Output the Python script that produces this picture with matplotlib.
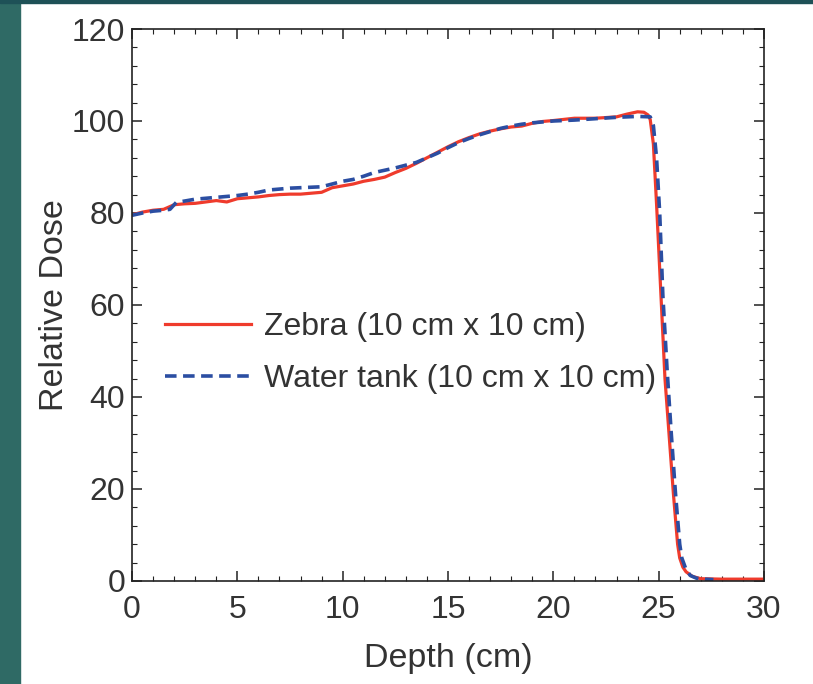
import matplotlib
matplotlib.use('Agg')
import matplotlib.pyplot as plt
from matplotlib.patches import Rectangle

plt.rcParams['font.family'] = ['Liberation Sans', 'DejaVu Sans']

# Depth-dose data (depth in cm, relative dose)
zebra_depth = [0, 0.5, 1.0, 1.5, 2.0, 2.5, 3.0, 3.5, 4.0, 4.5, 5.0, 5.5, 6.0, 6.5, 7.0,
               7.5, 8.0, 8.5, 9.0, 9.5, 10.0, 10.5, 11.0, 11.5, 12.0, 12.5, 13.0, 13.5,
               14.0, 14.5, 15.0, 15.5, 16.0, 16.5, 17.0, 17.5, 18.0, 18.5, 19.0, 19.5,
               20.0, 21.0, 22.0, 23.0, 23.5, 24.0, 24.3, 24.5, 24.6, 24.75, 24.9, 25.1,
               25.3, 25.5, 25.7, 25.9, 26.0, 26.15, 26.3, 26.6, 27.0, 28.0, 30.0]
zebra_dose = [79.6, 80.2, 80.6, 80.8, 81.8, 82.0, 82.1, 82.4, 82.7, 82.4, 83.1, 83.3, 83.5,
              83.8, 84.0, 84.1, 84.1, 84.3, 84.5, 85.5, 85.9, 86.3, 86.9, 87.3, 87.8, 88.8,
              89.7, 90.8, 92.0, 93.2, 94.4, 95.5, 96.4, 97.2, 97.8, 98.3, 98.7, 98.9, 99.5,
              99.9, 100.1, 100.6, 100.6, 100.9, 101.5, 102.0, 101.9, 101.3, 100.3, 95.0,
              82.0, 63.0, 44.0, 31.5, 19.0, 8.0, 5.0, 3.0, 2.0, 1.0, 0.5, 0.4, 0.4]

tank_depth = [0, 0.5, 1.0, 1.5, 1.8, 2.1, 2.5, 3.0, 3.5, 4.0, 4.5, 5.0, 5.5, 6.0, 6.5,
              7.0, 7.5, 8.0, 8.5, 9.0, 9.5, 10.0, 10.5, 11.0, 11.5, 12.0, 12.5, 13.0,
              13.5, 14.0, 14.5, 15.0, 15.5, 16.0, 16.5, 17.0, 17.5, 18.0, 18.5, 19.0,
              19.5, 20.0, 21.0, 22.0, 23.0, 24.0, 24.6, 24.75, 24.9, 25.05, 25.2, 25.4,
              25.6, 25.8, 26.0, 26.1, 26.3, 26.5, 26.8, 27.2, 27.6]
tank_dose = [79.5, 80.0, 80.4, 80.6, 80.8, 82.3, 82.6, 83.0, 83.2, 83.4, 83.6, 83.8, 84.1,
             84.5, 85.0, 85.2, 85.4, 85.5, 85.6, 85.7, 86.3, 86.9, 87.3, 88.0, 88.8, 89.3,
             89.8, 90.4, 91.0, 92.0, 93.0, 94.2, 95.3, 96.2, 97.0, 97.7, 98.4, 98.9, 99.3,
             99.6, 99.8, 100.0, 100.2, 100.5, 100.8, 101.0, 100.9, 99.0, 92.0, 80.0, 62.0,
             46.0, 32.0, 19.0, 8.0, 5.0, 2.5, 1.2, 0.6, 0.4, 0.3]

labels = ['Zebra (10 cm x 10 cm)', 'Water tank (10 cm x 10 cm)']

fig = plt.figure(figsize=(8.13, 6.84), dpi=100)

# slide background strips (left and top edge)
fig.patches.append(Rectangle((0, 0), 20 / 813, 1, transform=fig.transFigure,
                             color='#2f6a65', zorder=0))
fig.patches.append(Rectangle((0, 1 - 3 / 684), 1, 3 / 684, transform=fig.transFigure,
                             color='#1e5157', zorder=0))

ax = fig.add_axes([0.1624, 0.1506, 0.7773, 0.807])

ax.plot(zebra_depth, zebra_dose, color='#ef3b2c', lw=2.3, label=labels[0])
ax.plot(tank_depth, tank_dose, color='#2b4ea2', lw=2.6, dashes=(3.2, 1.8), label=labels[1])

ax.set_xlim(0, 30)
ax.set_ylim(0, 120)
ax.set_xticks(range(0, 31, 5))
ax.set_yticks(range(0, 121, 20))
ax.set_xticks(range(0, 31, 1), minor=True)
ax.set_yticks(range(0, 121, 4), minor=True)

ax.tick_params(which='both', direction='in', top=True, right=True, color='#222222')
ax.tick_params(which='major', length=7, width=1.1)
ax.tick_params(which='minor', length=3.5, width=0.8)
ax.tick_params(axis='x', which='major', pad=10, labelsize=23, labelcolor='#333333')
ax.tick_params(axis='y', which='major', pad=5, labelsize=23, labelcolor='#333333')

for s in ax.spines.values():
    s.set_linewidth(1.2)
    s.set_color('#222222')

ax.set_xlabel('Depth (cm)', fontsize=24.5, color='#333333', labelpad=13)
ax.set_ylabel('Relative Dose', fontsize=24.5, color='#333333', labelpad=1)

leg = ax.legend(loc='center left', bbox_to_anchor=(0.052, 0.413), frameon=False,
                fontsize=23, handlelength=2.7, handletextpad=0.4, labelspacing=0.68,
                borderpad=0, borderaxespad=0)
for t in leg.get_texts():
    t.set_color('#333333')

fig.savefig('out.png', dpi=100)
